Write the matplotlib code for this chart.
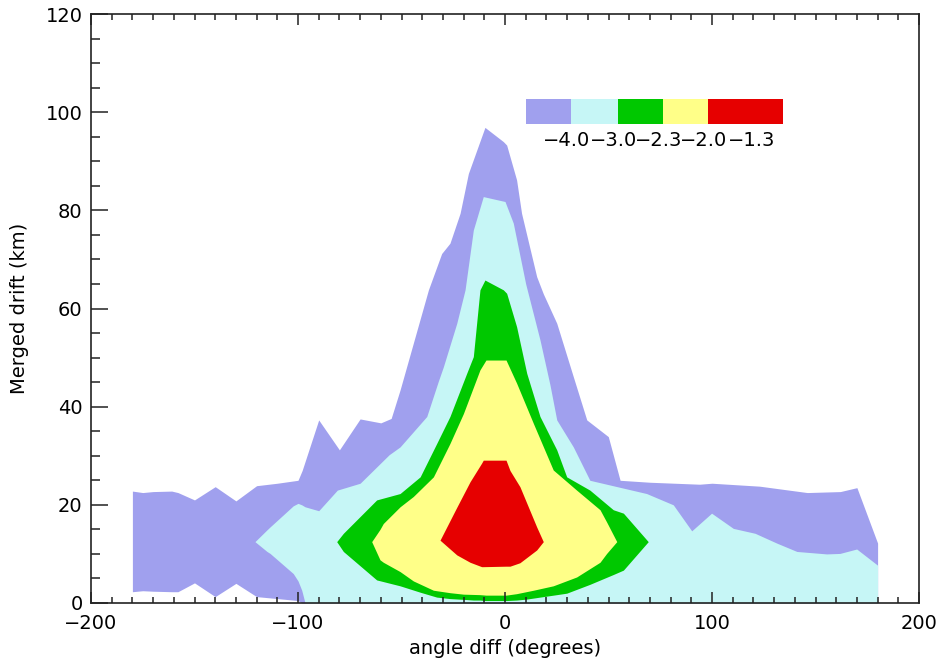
import matplotlib
matplotlib.use("Agg")
import matplotlib.pyplot as plt
from matplotlib.ticker import MultipleLocator

# ---------------- data (contour extents) ----------------
levels = [-4.0, -3.0, -2.3, -2.0, -1.3]
level_labels = ["\u22124.0", "\u22123.0", "\u22122.3", "\u22122.0", "\u22121.3"]
level_colors = ["#a0a0ee", "#c6f6f6", "#00c800", "#ffff88", "#e60000"]

# level -4.0
l40_x = [-180, -175, -170, -161, -158, -150, -140, -130, -120, -110, -100, -98,
         -90, -80, -70, -60, -55, -50.7, -37, -30.6, -26.6, -21.7, -17.7, -9.7,
         -0.8, 0.8, 5.6, 8, 15.3, 18.5, 25, 33, 39.5, 49.9, 55.6, 70, 94,
         100, 123, 146, 162, 170, 180]
l40_hi = [22.8, 22.5, 22.7, 22.8, 22.5, 21.0, 23.7, 20.8, 23.9, 24.4, 25.0, 27.0,
          37.3, 31.2, 37.5, 36.7, 37.6, 43.4, 63.8, 71.2, 73.3, 79.4, 87.5, 96.9,
          94.0, 93.3, 86.2, 79.4, 66.5, 63.0, 57.0, 46.1, 37.3, 33.9, 25.0, 24.6, 24.2,
          24.4, 23.8, 22.5, 22.7, 23.5, 12.2]
l40_lo = [2.3, 2.5, 2.4, 2.3, 2.3, 4.1, 1.3, 4.0, 1.3, 0.9, 0.5, 0.0,
          0, 0, 0, 0, 0, 0, 0, 0, 0, 0, 0, 0,
          0, 0, 0, 0, 0, 0, 0, 0, 0, 0, 0, 0, 0,
          0, 0, 0, 0, 0, 0]

# level -3.0
l30_x = [-120.8, -115, -113.5, -102.3, -100, -98.2, -96.6, -90, -81, -70, -56,
         -50.7, -37.8, -32.2, -29.8, -23.3, -19.3, -15.3, -10.5, 0, 4, 10, 16.9,
         21.7, 25, 33, 41,
         68.4, 81.3, 90.2, 99.8, 110.3, 120.8, 131.3, 141, 155.4, 161.8, 169.9, 180]
l30_hi = [12.5, 14.9, 15.5, 19.8, 20.3, 20.0, 19.6, 18.8, 23.0, 24.4, 30.2,
          31.8, 38.0, 45.2, 48.1, 57.0, 63.8, 76.0, 82.8, 81.8, 77.4, 65.0, 53.6,
          44.5, 37.3, 31.8, 25.0,
          22.3, 20.0, 14.7, 18.3, 15.2, 14.2, 12.2, 10.5, 10.0, 10.1, 11.0, 7.7]
l30_lo = [12.5, 10.5, 10.1, 6.0, 4.5, 2.6, 0.0, 0, 0, 0, 0,
          0, 0, 0, 0, 0, 0, 0, 0, 0, 0, 0, 0,
          0, 0, 0, 0,
          0, 0, 0, 0, 0, 0, 0, 0, 0, 0, 0, 0]

# level -2.3
l23_x = [-81.3, -78.1, -62, -50.7, -41, -33, -26.6, -18.5, -15.3, -12.1, -9.7,
         -0.8, 0.8, 5.6, 10.5, 16.9, 25, 29.8, 41, 52.3, 57.2, 69.2]
l23_hi = [12.5, 14.2, 21.0, 22.3, 25.7, 32.5, 38.0, 46.8, 50.2, 63.8, 65.8,
          63.8, 63.1, 56.3, 46.8, 38.0, 31.2, 25.7, 23.0, 19.0, 18.3, 12.5]
l23_lo = [12.5, 10.5, 4.7, 3.5, 2.2, 1.2, 0.9, 0.7, 0.6, 0.6, 0.5,
          0.5, 0.5, 0.6, 0.8, 1.2, 1.7, 2.0, 3.8, 5.8, 6.7, 12.5]

# level -2.0
l20_x = [-64.4, -60.4, -58.8, -50.7, -44.3, -34.6, -26.6, -20.1, -12.1, -9.2,
         0.5, 5.6, 13.7, 23.3, 34.6, 45.9, 49.1, 54]
l20_hi = [12.5, 15.0, 16.2, 19.6, 21.7, 25.7, 32.5, 38.6, 47.5, 49.5,
          49.5, 44.8, 36.6, 27.1, 23.0, 19.0, 16.5, 12.5]
l20_lo = [12.5, 8.8, 8.3, 6.4, 4.5, 2.6, 2.1, 1.8, 1.7, 1.6,
          1.6, 1.9, 2.6, 3.5, 5.3, 8.3, 10.1, 12.5]

# level -1.3
l13_x = [-31.4, -23.3, -16.9, -11.3, -10.5, 0.5, 2.4, 7.2, 15.3, 18.5]
l13_hi = [12.8, 19.5, 24.7, 28.5, 29.1, 29.1, 27.0, 23.7, 15.5, 12.5]
l13_lo = [12.8, 9.8, 8.3, 7.4, 7.4, 7.5, 7.5, 8.2, 10.8, 12.5]

x_ticks = [-200, -100, 0, 100, 200]
y_ticks = [0, 20, 40, 60, 80, 100, 120]

# ---------------- figure ----------------
plt.rcParams['font.family'] = ['DejaVu Sans']
W, H = 943, 669
fig = plt.figure(figsize=(W / 100, H / 100), dpi=100)
ax = fig.add_axes([91 / W, (H - 603) / H, (919 - 91) / W, (603 - 14) / H])

series = [(l40_x, l40_lo, l40_hi), (l30_x, l30_lo, l30_hi), (l23_x, l23_lo, l23_hi),
          (l20_x, l20_lo, l20_hi), (l13_x, l13_lo, l13_hi)]
for (xs, lo, hi), col in zip(series, level_colors):
    ax.fill_between(xs, lo, hi, color=col, linewidth=0, zorder=2)

ax.set_xlim(-200, 200)
ax.set_ylim(0, 120)
ax.set_xticks(x_ticks)
ax.set_yticks(y_ticks)
ax.xaxis.set_minor_locator(MultipleLocator(10))
ax.yaxis.set_minor_locator(MultipleLocator(5))
ax.tick_params(axis='x', which='both', direction='in', top=True, bottom=True,
               labelsize=14, pad=8, width=1.1, color='#222222')
ax.tick_params(axis='x', which='major', length=8)
ax.tick_params(axis='x', which='minor', length=4)
ax.tick_params(axis='y', which='both', direction='in', left=True, right=False,
               labelsize=14, pad=6, width=1.1, color='#222222')
ax.tick_params(axis='y', which='major', length=12.5)
ax.tick_params(axis='y', which='minor', length=6.5)
for sp in ax.spines.values():
    sp.set_linewidth(1.2)
    sp.set_color('#222222')
    sp.set_zorder(5)
ax.set_axisbelow(False)

ax.set_xlabel("angle diff (degrees)", fontsize=14, labelpad=4)
ax.set_ylabel("Merged drift (km)", fontsize=14, labelpad=12)

# ---------------- level key ----------------
kx0, kx1 = 525.7, 782.7
ky0, ky1 = 99, 124.3
kax = fig.add_axes([kx0 / W, (H - ky1) / H, (kx1 - kx0) / W, (ky1 - ky0) / H])
seg_edges = [0, 45.3, 92.0, 137.0, 182.0, 257.0]
for i, col in enumerate(level_colors):
    kax.barh(0, seg_edges[i + 1] - seg_edges[i], left=seg_edges[i], height=1,
             color=col, linewidth=0)
kax.set_xlim(0, 257)
kax.set_ylim(-0.5, 0.5)
kax.axis('off')
label_pos = [40.5, 87.5, 132.5, 177.5, 225.5]
for p, t in zip(label_pos, level_labels):
    kax.text(p, -0.5 - 16 / 25.3, t, ha='center', va='center', fontsize=14,
             transform=kax.transData, clip_on=False)

fig.savefig("out.png", dpi=100)
